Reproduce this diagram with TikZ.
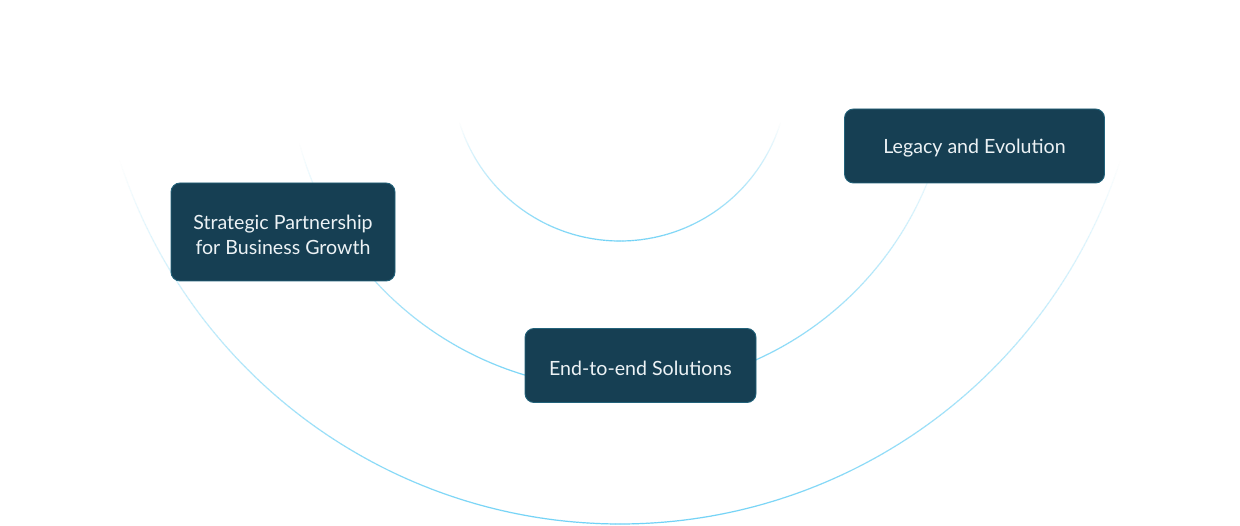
\documentclass[tikz,border=0pt]{standalone}
\usepackage{fontspec}
\setmainfont{Lato}
\definecolor{arcblue}{RGB}{112,210,246}
\definecolor{boxfill}{RGB}{22,63,83}
\definecolor{boxedge}{RGB}{34,98,122}
\definecolor{boxtext}{RGB}{236,242,245}
\tikzset{
  card/.style={draw=boxedge, line width=0.9pt, fill=boxfill, rounded corners=9pt, inner sep=0pt},
  cardtext/.style={text=boxtext, font=\fontsize{19.6}{25}\selectfont, align=center, inner sep=0pt},
  arcseg/.style={draw=arcblue, line width=1.2pt, line cap=butt},
}
% fading arc: centre (#1,#2), radius #3, from angle #4 to #5 (y axis points down)
\newcommand{\fadearc}[5]{%
  \pgfmathsetmacro{\half}{(#5-#4)/2}%
  \pgfmathtruncatemacro{\nseg}{2*(#5-#4)-1}%
  \foreach \i in {0,...,\nseg}{%
    \pgfmathsetmacro{\t}{#4+0.5*\i}%
    \pgfmathsetmacro{\dd}{abs(\t+0.25-90)/\half}%
    \pgfmathsetmacro{\op}{max(0,min(1,1-\dd^1.6))}%
    \pgfmathsetmacro{\xa}{#1+#3*cos(\t)}%
    \pgfmathsetmacro{\ya}{#2+#3*sin(\t)}%
    \pgfmathsetmacro{\tb}{\t+0.52}%
    \pgfmathsetmacro{\xb}{#1+#3*cos(\tb)}%
    \pgfmathsetmacro{\yb}{#2+#3*sin(\tb)}%
    \draw[arcseg, draw opacity=\op] (\xa,\ya) -- (\xb,\yb);%
  }%
}
\begin{document}
\begin{tikzpicture}[x=1pt,y=-1pt]
\useasboundingbox (0,0) rectangle (1240,526);
\fill[white] (0,0) rectangle (1240,526);
% arcs
\fadearc{620}{73}{168}{17}{163}
\fadearc{620}{57}{332}{15}{165}
\fadearc{620}{-2}{526}{18}{162}
% cards
\node[card, minimum width=224pt, minimum height=98pt] (strat) at (283,232) {};
\node[cardtext] (stratT) at ([yshift=-2.5pt]strat.center) {Strategic Partnership\\for Business Growth};
\node[card, minimum width=231pt, minimum height=74pt] (e2e) at (640.5,365.5) {};
\node[cardtext] (e2eT) at ([yshift=-2.5pt]e2e.center) {End-to-end Solutions};
\node[card, minimum width=260pt, minimum height=74pt] (legacy) at (974.5,146) {};
\node[cardtext] (legacyT) at ([yshift=-2.5pt]legacy.center) {Legacy and Evolution};
\end{tikzpicture}
\end{document}
